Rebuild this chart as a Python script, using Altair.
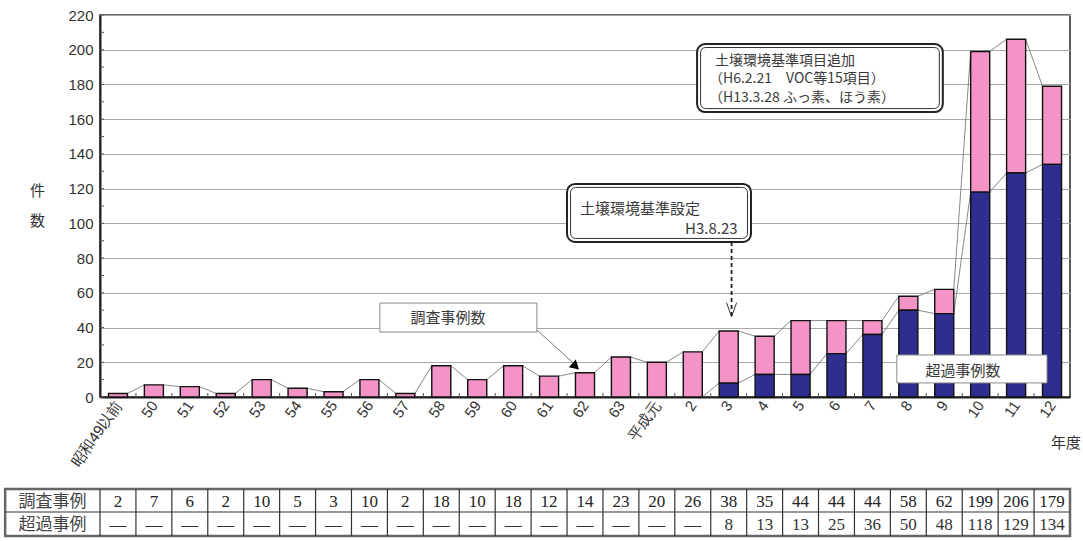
import json
import altair as alt
import pandas as pd

# 年度ごとの調査事例数と超過事例数
years = ["昭和49以前", "50", "51", "52", "53", "54", "55", "56", "57", "58", "59",
         "60", "61", "62", "63", "平成元", "2", "3", "4", "5", "6", "7", "8", "9",
         "10", "11", "12"]
surveyed = [2, 7, 6, 2, 10, 5, 3, 10, 2, 18, 10, 18, 12, 14, 23, 20, 26,
            38, 35, 44, 44, 44, 58, 62, 199, 206, 179]
exceeded = [None] * 17 + [8, 13, 13, 25, 36, 50, 48, 118, 129, 134]
row_labels = ["調査事例", "超過事例"]

PINK = "#F493C5"
NAVY = "#2E2E8E"
JP = "Noto Sans CJK JP"
SANS = "Liberation Sans"
SERIF = "Liberation Serif"
HW = 0.265          # half bar width in category units
W, H = 970, 382

n = len(years)
df = pd.DataFrame({
    "idx": list(range(n)),
    "year": years,
    "total": surveyed,
    "exc": [e if e is not None else 0 for e in exceeded],
    "exc_txt": [str(e) if e is not None else "—" for e in exceeded],
})
df["x0"] = df["idx"] - HW
df["x1"] = df["idx"] + HW

XS = alt.Scale(domain=[-0.5, n - 0.5], nice=False, zero=False)
YS = alt.Scale(domain=[0, 220], nice=False)

label_expr = json.dumps(years, ensure_ascii=False) + "[datum.value]"

# one axis definition per channel, shared by every layer so they merge
AX_X = alt.Axis(values=list(range(n)), labelExpr=label_expr, title=None,
                labelAngle=-55, labelAlign="right", labelBaseline="middle",
                labelPadding=5, labelFontSize=15, labelFont=SANS,
                labelColor="#333", tickSize=0, grid=False, labelOverlap=False,
                labelBound=False, labelFlush=False,
                domainColor="#222", domainWidth=2)
AX_Y = alt.Axis(values=list(range(0, 221, 20)), labelFontSize=15,
                labelFont=SANS, labelColor="#333", tickSize=0,
                labelPadding=7, grid=True, gridColor="#A8A8A8",
                gridWidth=1, domainColor="#222", domainWidth=2,
                title=["件", "数"], titleAngle=0, titleFont=JP,
                titleFontSize=15, titleFontWeight="normal",
                titleColor="#333", titleX=-63, titleY=183,
                titleAlign="center", titleLineHeight=30)


def X(f, **kw):
    return alt.X(f, type="quantitative", scale=XS, axis=AX_X, **kw)


def Y(f, **kw):
    return alt.Y(f, type="quantitative", scale=YS, axis=AX_Y, **kw)


# minor ticks on the value axis and category boundary ticks
minor = alt.Chart(pd.DataFrame({"v": list(range(0, 221, 10))})).mark_rule(
    color="#555", strokeWidth=1).encode(
    x=alt.value(0), x2=alt.value(4), y=Y("v"))
cat_ticks = alt.Chart(pd.DataFrame({"b": [i + 0.5 for i in range(n - 1)]})).mark_rule(
    color="#555", strokeWidth=1).encode(
    x=X("b"), y=alt.value(H), y2=alt.value(H - 4))

# series lines joining bar tops
seg_total = pd.DataFrame({
    "xa": [i + HW for i in range(n - 1)],
    "xb": [i + 1 - HW for i in range(n - 1)],
    "ya": surveyed[:-1],
    "yb": surveyed[1:],
})
start = 16
seg_exc = pd.DataFrame({
    "xa": [i + HW for i in range(start, n - 1)],
    "xb": [i + 1 - HW for i in range(start, n - 1)],
    "ya": [df["exc"][i] for i in range(start, n - 1)],
    "yb": [df["exc"][i + 1] for i in range(start, n - 1)],
})
lines_total = alt.Chart(seg_total).mark_rule(color="#7A7A7A", strokeWidth=0.9).encode(
    x=X("xa"), x2="xb", y=Y("ya"), y2="yb")
lines_exc = alt.Chart(seg_exc).mark_rule(color="#7A7A7A", strokeWidth=0.9).encode(
    x=X("xa"), x2="xb", y=Y("ya"), y2="yb")

# stacked bars: exceeded part at the bottom, remaining surveyed cases above
pink = alt.Chart(df).mark_rect(fill=PINK, stroke="#111", strokeWidth=1.4).encode(
    x=X("x0"), x2="x1", y=Y("exc"), y2="total")
navy = alt.Chart(df[df["exc"] > 0]).mark_rect(fill=NAVY, stroke="#111", strokeWidth=1.4).encode(
    x=X("x0"), x2="x1", y=Y("exc"), y2=alt.Y2(datum=0))


def box(x0, x1, y0, y1, double=False, stroke="#8A8A8A"):
    d = pd.DataFrame({"a": [x0], "b": [x1], "c": [y0], "e": [y1]})
    if double:
        outer = alt.Chart(d).mark_rect(fill="white", stroke="#222", strokeWidth=2,
                                       cornerRadius=8).encode(
            x=X("a"), x2="b", y=Y("c"), y2="e")
        inner = alt.Chart(d).mark_rect(fill="white", stroke="#333", strokeWidth=1,
                                       cornerRadius=5, xOffset=3.5, x2Offset=-3.5,
                                       yOffset=3.5, y2Offset=-3.5).encode(
            x=X("a"), x2="b", y=Y("c"), y2="e")
        return [outer, inner]
    return [alt.Chart(d).mark_rect(fill="white", stroke=stroke, strokeWidth=1).encode(
        x=X("a"), x2="b", y=Y("c"), y2="e")]


def label(x, y, text, align="left", size=15):
    d = pd.DataFrame({"x": [x], "y": [y], "t": [text]})
    return alt.Chart(d).mark_text(align=align, baseline="middle", font=JP,
                                  fontSize=size, color="#3A3A3A").encode(
        x=X("x"), y=Y("y"), text="t:N")


def seg(xa, ya, xb, yb, **kw):
    d = pd.DataFrame({"xa": [xa], "ya": [ya], "xb": [xb], "yb": [yb]})
    return alt.Chart(d).mark_rule(**kw).encode(x=X("xa"), x2="xb", y=Y("ya"), y2="yb")


notes = []
# 土壌環境基準項目追加
notes += box(16.12, 22.96, 203.3, 164.1, double=True)
notes += [label(16.62, 193.6, "土壌環境基準項目追加", size=14),
          label(16.45, 183.0, "（H6.2.21　VOC等15項目）", size=14),
          label(16.45, 172.4, "（H13.3.28 ふっ素、ほう素）", size=14)]
# 土壌環境基準設定 with dashed arrow to 平成3年度
notes += box(12.5, 17.62, 122.7, 89.3, double=True)
notes += [label(12.86, 108.3, "土壌環境基準設定"),
          label(17.25, 96.6, "H3.8.23", align="right")]
notes += [seg(17.08, 89.3, 17.08, 46.6, color="#222", strokeWidth=1.8, strokeDash=[4, 3]),
          seg(16.94, 54.3, 17.08, 46.2, color="#333", strokeWidth=1),
          seg(17.22, 54.3, 17.08, 46.2, color="#333", strokeWidth=1)]
# 調査事例数 leader
notes += [seg(11.66, 38.6, 12.76, 18.0, color="#666", strokeWidth=0.9)]
notes += box(7.29, 11.66, 54.1, 37.4)
notes += [label(9.19, 45.6, "調査事例数", align="center")]
arrow = alt.Chart(pd.DataFrame({"x": [12.74], "y": [17.6]})).mark_point(
    shape="triangle-up", filled=True, color="black", opacity=1, size=110, angle=132).encode(
    x=X("x"), y=Y("y"))
notes += [arrow]
# 超過事例数
notes += box(21.68, 25.86, 24.2, 8.1)
notes += [label(23.52, 15.2, "超過事例数", align="center")]

# 年度 caption
year_cap = alt.Chart(pd.DataFrame({"x": [26.39], "t": ["年度"]})).mark_text(
    font=JP, fontSize=15, color="#333", baseline="middle").encode(
    x=X("x"), y=alt.value(428), text="t:N")

# data table under the chart
T_TOP, T_MID, T_BOT = 474, 497, 521
LEFT = -3.14
tframe = alt.Chart(pd.DataFrame({"a": [LEFT], "b": [n - 0.5]})).mark_rect(
    fill="white", stroke="#666", strokeWidth=2.5).encode(
    x=X("a"), x2="b", y=alt.value(T_TOP), y2=alt.value(T_BOT))
tmid = alt.Chart(pd.DataFrame({"a": [LEFT], "b": [n - 0.5]})).mark_rule(
    color="#333", strokeWidth=1.2).encode(x=X("a"), x2="b", y=alt.value(T_MID))
tcols = alt.Chart(pd.DataFrame({"b": [i - 0.5 for i in range(n)]})).mark_rule(
    color="#333", strokeWidth=1.2).encode(
    x=X("b"), y=alt.value(T_TOP), y2=alt.value(T_BOT))
rowlab = alt.Chart(pd.DataFrame({"x": [(LEFT - 0.5) / 2] * 2, "t": row_labels,
                                 "y": [(T_TOP + T_MID) / 2 + 1, (T_MID + T_BOT) / 2 + 1]})).mark_text(
    font=JP, fontSize=17, color="#444", baseline="middle").encode(
    x=X("x"), y=alt.Y("y:Q", scale=None), text="t:N")
row1 = alt.Chart(df).mark_text(font=SERIF, fontSize=17, color="#222", baseline="middle").encode(
    x=X("idx"), y=alt.value((T_TOP + T_MID) / 2 + 1), text="total:N")
row2 = alt.Chart(df).mark_text(font=SERIF, fontSize=17, color="#333", baseline="middle").encode(
    x=X("idx"), y=alt.value((T_MID + T_BOT) / 2 + 1), text="exc_txt:N")

chart = alt.layer(
    minor, cat_ticks, lines_total, lines_exc, pink, navy, *notes, year_cap,
    tframe, tmid, tcols, rowlab, row1, row2,
).properties(
    width=W, height=H,
    autosize=alt.AutoSizeParams(type="none"),
    padding={"left": 100, "top": 15, "right": 1083 - 100 - W, "bottom": 541 - 15 - H},
    background="white",
).configure_view(stroke="#333", strokeWidth=1.6)

chart.save("out.html", embed_options={"renderer": "svg", "actions": False})
